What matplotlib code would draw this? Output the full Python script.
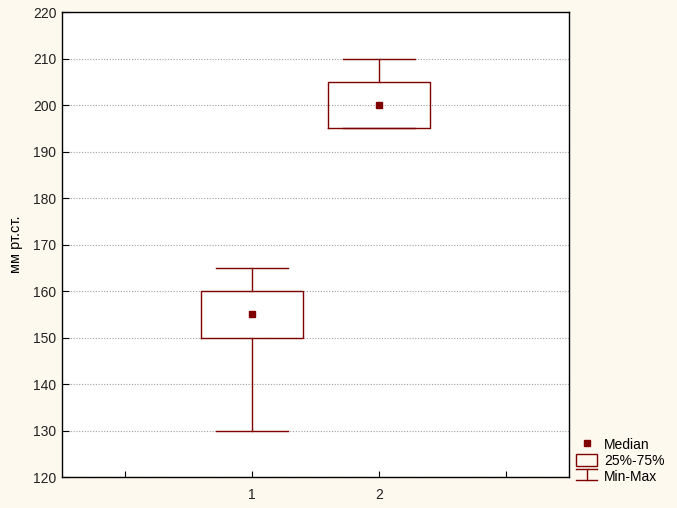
import matplotlib.pyplot as plt
from matplotlib.lines import Line2D
from matplotlib.patches import Rectangle
from matplotlib.legend_handler import HandlerBase

plt.rcParams['font.family'] = ['Liberation Sans', 'DejaVu Sans']

# Данные
groups = ["1", "2"]
positions = [1, 2]
mins = [130, 195]
q1 = [150, 195]
medians = [155, 200]
q3 = [160, 205]
maxs = [165, 210]

col = "#7f0000"
bg = "#fdf9ee"


class HandlerMinMax(HandlerBase):
    def create_artists(self, legend, orig, x0, y0, w, h, fontsize, trans):
        cx = x0 + w / 2
        top = y0 + h * 0.85
        bot = y0
        lines = [
            Line2D([x0, x0 + w], [top, top]),
            Line2D([cx, cx], [bot, top]),
            Line2D([x0, x0 + w], [bot, bot]),
        ]
        for l in lines:
            l.set_color(col)
            l.set_linewidth(1)
            l.set_transform(trans)
        return lines


fig = plt.figure(figsize=(6.77, 5.08), dpi=100, facecolor=bg)
ax = fig.add_axes([0.0916, 0.061, 0.7489, 0.915])
ax.set_facecolor("white")

stats = []
for i in range(len(groups)):
    stats.append(dict(whislo=mins[i], q1=q1[i], med=medians[i],
                      q3=q3[i], whishi=maxs[i], fliers=[], label=groups[i]))

lp = dict(color=col, linewidth=1)
ax.bxp(stats, positions=positions, widths=0.8, capwidths=0.57,
       boxprops=lp, whiskerprops=lp, capprops=lp,
       medianprops=dict(linewidth=0), showfliers=False)
ax.plot(positions, medians, "s", color=col, markersize=5, linestyle="none")

ax.set_xlim(-0.5, 3.5)
ax.set_ylim(120, 220)
ax.set_xticks([0, 1, 2, 3])
ax.set_xticklabels(["", "1", "2", ""])
ax.set_yticks(range(120, 221, 10))
ax.tick_params(axis="both", direction="in", labelsize=10, colors="black",
               labelcolor="#222222")
ax.tick_params(axis="x", length=4, pad=8)
ax.tick_params(axis="y", length=5, pad=4)
ax.yaxis.grid(True, linestyle=(0, (1, 1.5)), color="#a0a0a0", linewidth=0.8)
ax.set_axisbelow(True)
for s in ax.spines.values():
    s.set_linewidth(1)
ax.set_ylabel("мм рт.ст.", fontsize=10.5, labelpad=7)

handles = [
    Line2D([], [], marker="s", color=col, linestyle="none", markersize=5),
    Rectangle((0, 0), 1, 1, facecolor="none", edgecolor=col, linewidth=1),
    Line2D([], [], color=col),
]
fig.legend(handles, ["Median", "25%-75%", "Min-Max"],
           handler_map={handles[2]: HandlerMinMax()},
           loc="lower left", bbox_to_anchor=(0.851, 0.047),
           frameon=False, fontsize=10, handlelength=1.5, handleheight=1.0,
           handletextpad=0.5, labelspacing=0.15, borderpad=0,
           borderaxespad=0)

fig.savefig("out.png", dpi=100, facecolor=bg)
